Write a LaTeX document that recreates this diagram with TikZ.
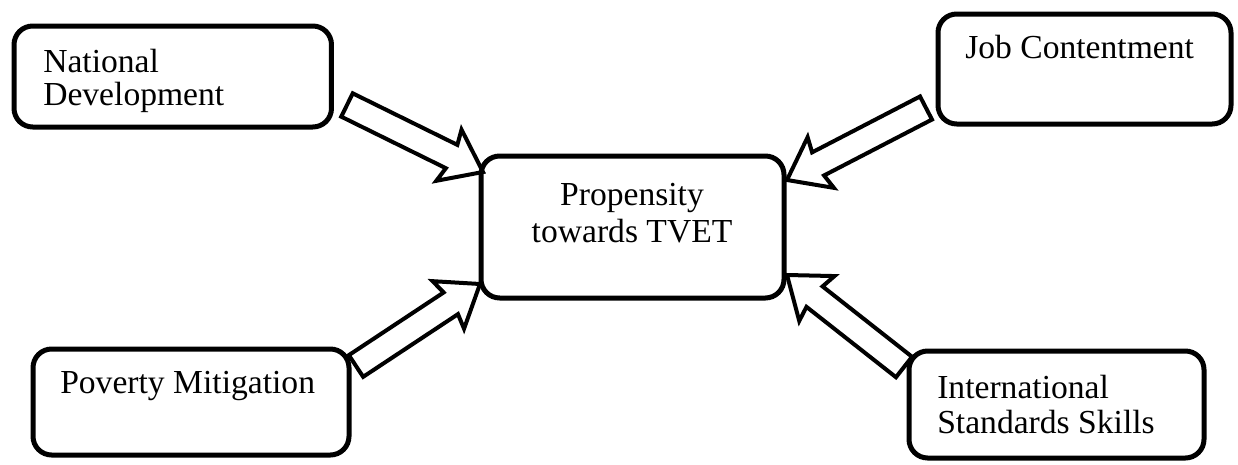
\documentclass[tikz,border=0pt]{standalone}
\usepackage{fontspec}
\setmainfont{Liberation Serif}
\usetikzlibrary{calc}
\tikzset{
  box/.style={draw=black, line width=3.75pt, rounded corners=14pt, inner sep=0pt, rectangle},
  label/.style={inner sep=0pt, font=\fontsize{25.2pt}{26.25pt}\selectfont, text=black},
  arrowline/.style={draw=black, fill=white, line width=3pt, line join=miter, miter limit=10}
}
\newcommand\blockarrow[2]{%
  \path ($(#2)!26.25pt!(#1)$) coordinate (J) ($(#2)!28.5pt!(#1)$) coordinate (K);
  \draw[arrowline] ($(#1)!9.75pt!90:(#2)$) -- ($(J)!9.75pt!90:(#2)$) -- ($(K)!21.4pt!90:(#2)$)
     -- (#2) -- ($(K)!21.4pt!-90:(#2)$) -- ($(J)!9.75pt!-90:(#2)$) -- ($(#1)!9.75pt!-90:(#2)$) -- cycle;
}
\begin{document}
\begin{tikzpicture}[x=0.75pt,y=-0.75pt]
\useasboundingbox (0,0) rectangle (1238,464);
% arrow end points
\coordinate (a1t) at (347,105);  \coordinate (a1h) at (483,172);
\coordinate (a2t) at (926,108);  \coordinate (a2h) at (787,180);
\coordinate (a3t) at (356,366);  \coordinate (a3h) at (480,284);
\coordinate (a4t) at (904,367);  \coordinate (a4h) at (787,275);
\blockarrow{a1t}{a1h}
\blockarrow{a2t}{a2h}
\blockarrow{a3t}{a3h}
\blockarrow{a4t}{a4h}
% boxes
\node[box, minimum width=238.1pt, minimum height=75.75pt] (nd) at (172.75,76.5) {};
\node[box, minimum width=219.75pt, minimum height=82.5pt] (job) at (1084.5,69) {};
\node[box, minimum width=227.25pt, minimum height=106.5pt] (cen) at (632.5,227) {};
\node[box, minimum width=237pt, minimum height=79.5pt] (pov) at (191,402) {};
\node[box, minimum width=221.25pt, minimum height=80.25pt] (intl) at (1056.5,404.5) {};
% texts (multi-line nodes: base = baseline of last line)
\node[label, anchor=base west, align=left, font=\fontsize{25.2pt}{24.75pt}\selectfont] (ndt) at (43,105) {National\\Development};
\node[label, anchor=base west] (jobt) at (965,58) {Job Contentment};
\node[label, anchor=base, align=center, font=\fontsize{25.2pt}{27.75pt}\selectfont] (cent) at (632,242) {Propensity\\towards TVET};
\node[label, anchor=base west] (povt) at (60,393) {Poverty Mitigation};
\node[label, anchor=base west, align=left] (intlt) at (937,433) {International\\Standards Skills};
\end{tikzpicture}
\end{document}
